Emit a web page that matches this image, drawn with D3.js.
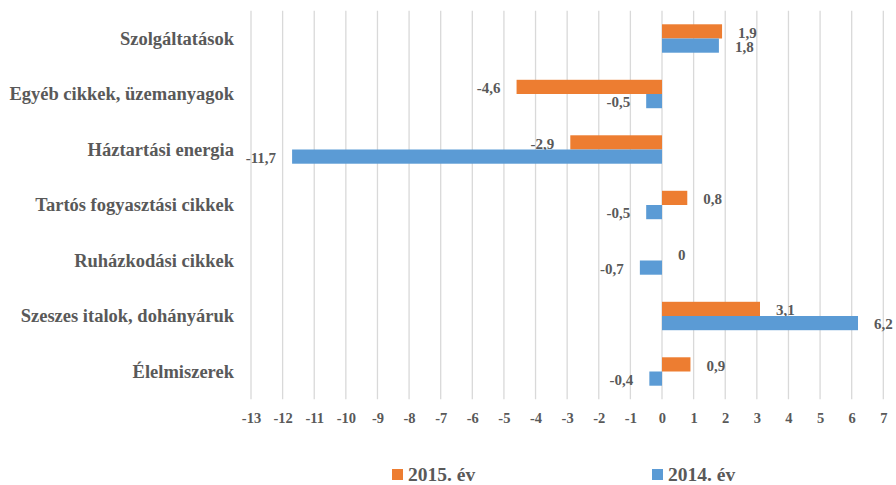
<!DOCTYPE html>
<html>
<head>
<meta charset="utf-8">
<script src="https://cdn.jsdelivr.net/npm/d3@7"></script>
<style>
  html, body { margin: 0; padding: 0; background: #fff; }
  svg { display: block; }
</style>
</head>
<body>
<svg id="chart" width="896" height="485"></svg>
<script>
// Fogyasztói árváltozás főcsoportonként (%)
const categories = [
  "Szolgáltatások",
  "Egyéb cikkek, üzemanyagok",
  "Háztartási energia",
  "Tartós fogyasztási cikkek",
  "Ruházkodási cikkek",
  "Szeszes italok, dohányáruk",
  "Élelmiszerek"
];
const seriesNames = ["2015. év", "2014. év"];
const values2015 = [1.9, -4.6, -2.9, 0.8, 0, 3.1, 0.9];
const values2014 = [1.8, -0.5, -11.7, -0.5, -0.7, 6.2, -0.4];
const seriesColors = ["#ED7D31", "#5B9BD5"];
const xTicks = d3.range(-13, 8, 1);

const FONT = "Liberation Serif";
const TEXT_COLOR = "#595959";
const svg = d3.select("#chart")
  .attr("font-family", FONT).attr("font-weight", "bold");
const plot = { left: 251, right: 883.3, top: 10.75, bottom: 399.25 };

const x = d3.scaleLinear().domain([-13, 7]).range([plot.left, plot.right]);
const y = d3.scaleBand().domain(categories).range([plot.top, plot.bottom])
  .paddingInner(0.488).paddingOuter(0.244);
const ySub = d3.scaleBand().domain(seriesNames).range([0, y.bandwidth()]);

const fmt = v => String(v).replace(".", ",");

// vertical gridlines
svg.append("g").selectAll("line").data(xTicks).join("line")
  .attr("x1", d => x(d)).attr("x2", d => x(d))
  .attr("y1", plot.top).attr("y2", plot.bottom)
  .attr("stroke", "#d9d9d9").attr("stroke-width", 1.3);

// x axis tick labels
const xAxis = d3.axisBottom(x).tickValues(xTicks).tickSize(0).tickPadding(0)
  .tickFormat(d => String(d));
const gx = svg.append("g").attr("transform", `translate(0,${plot.bottom})`).call(xAxis)
  .attr("font-family", FONT).attr("font-weight", "bold").attr("font-size", 14.5);
gx.select(".domain").remove();
gx.selectAll("text")
  .attr("y", 18.3).attr("dy", "0.35em").attr("fill", TEXT_COLOR);

// category labels
const yAxis = d3.axisLeft(y).tickSize(0).tickPadding(0);
const gy = svg.append("g").attr("transform", `translate(234,0)`).call(yAxis)
  .attr("font-family", FONT).attr("font-weight", "bold").attr("font-size", 18.5);
gy.select(".domain").remove();
gy.selectAll("text")
  .attr("x", 0).attr("dy", "0.35em").attr("fill", TEXT_COLOR);

// bars and value labels
const series = [values2015, values2014];
series.forEach((vals, si) => {
  const name = seriesNames[si];
  const g = svg.append("g");
  g.selectAll("rect").data(vals).join("rect")
    .attr("x", d => x(Math.min(0, d)))
    .attr("width", d => Math.abs(x(d) - x(0)))
    .attr("y", (d, i) => y(categories[i]) + ySub(name))
    .attr("height", ySub.bandwidth())
    .attr("fill", seriesColors[si]);
  g.selectAll("text").data(vals).join("text")
    .attr("x", d => d < 0 ? x(d) - 16 : x(d) + 16)
    .attr("y", (d, i) => y(categories[i]) + ySub(name) + ySub.bandwidth() / 2 + 1)
    .attr("dy", "0.35em")
    .attr("text-anchor", d => d < 0 ? "end" : "start")
    .attr("font-size", 15)
    .attr("fill", TEXT_COLOR)
    .text(d => fmt(d));
});

// legend
const legendItems = [
  { name: seriesNames[0], color: seriesColors[0], x: 392 },
  { name: seriesNames[1], color: seriesColors[1], x: 652 }
];
const lg = svg.append("g").selectAll("g").data(legendItems).join("g")
  .attr("transform", d => `translate(${d.x},469)`);
lg.append("rect").attr("width", 11).attr("height", 11).attr("fill", d => d.color);
lg.append("text").attr("x", 16).attr("y", 12)
  .attr("font-size", 19.5).attr("fill", TEXT_COLOR).text(d => d.name);
</script>
</body>
</html>
